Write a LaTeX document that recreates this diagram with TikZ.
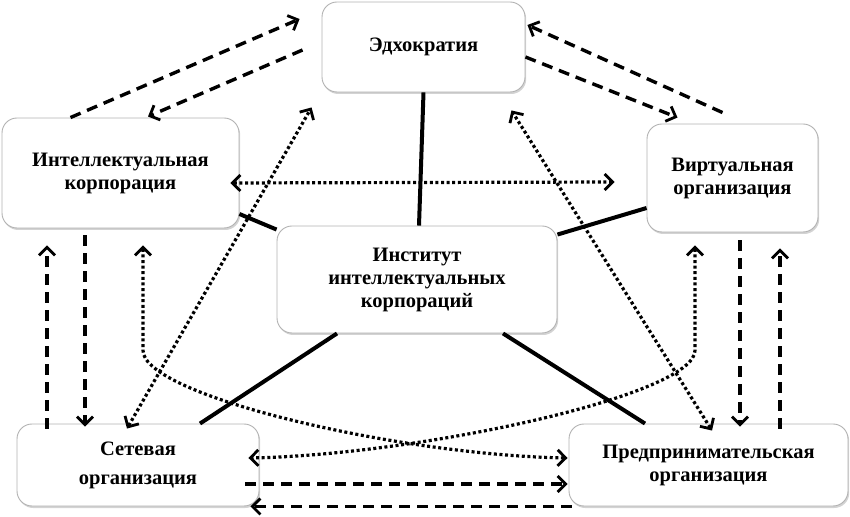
\documentclass[tikz,border=0pt]{standalone}
\usepackage{fontspec}
\setmainfont{Liberation Serif}
\usetikzlibrary{arrows.meta,shadows}
\begin{document}
\begin{tikzpicture}[x=1pt,y=1pt,
  box/.style={draw=gray!60, line width=0.9pt, rounded corners=15pt, fill=white,
    drop shadow={opacity=0.35, shadow xshift=1.2pt, shadow yshift=-2pt},
    align=center, font=\fontsize{20.5}{23}\selectfont\bfseries, inner sep=0pt},
  tie/.style={line width=4pt},
  flow/.style={line width=3.4pt, dash pattern=on 11pt off 7pt, -{Straight Barb[length=8pt,width=16pt,line width=2.8pt]}},
  link/.style={line width=3.2pt, dash pattern=on 3pt off 2.6pt, {Straight Barb[length=8pt,width=16pt,line width=2.8pt]}-{Straight Barb[length=8pt,width=16pt,line width=2.8pt]}}]
\useasboundingbox (0,0) rectangle (850,516);
\node[box, minimum width=203pt, minimum height=90pt] (edh) at (423.5,469) {Эдхократия};
\node[box, minimum width=237pt, minimum height=110pt] (ik) at (120.5,343) {Интеллектуальная\\корпорация};
\node[box, minimum width=171pt, minimum height=108pt] (vo) at (732.5,338) {Виртуальная\\организация};
\node[box, minimum width=280pt, minimum height=107pt] (inst) at (417,236.5) {Институт\\интеллектуальных\\корпораций};
\node[box, minimum width=242pt, minimum height=82pt, font=\fontsize{20.5}{29}\selectfont\bfseries] (so) at (138,51) {Сетевая\\организация};
\node[box, minimum width=279pt, minimum height=82pt] (po) at (708.5,51) {Предпринимательская\\организация};
\draw[tie] (edh.south) -- ([xshift=2pt]inst.north);
\draw[tie] ([yshift=-41pt]ik.east) -- ([yshift=-4pt]inst.north west);
\draw[tie] ([yshift=-30pt]vo.west) -- ([yshift=-9pt]inst.north east);
\draw[tie] ([xshift=-80pt]inst.south) -- ([xshift=62pt]so.north);
\draw[tie] ([xshift=86pt]inst.south) -- ([xshift=-63.5pt]po.north);
\draw[flow] ([xshift=-50pt]ik.north) -- ([xshift=-22pt,yshift=28pt]edh.west);
\draw[flow] ([xshift=-19pt,yshift=-3pt]edh.west) -- ([xshift=27.5pt,yshift=1pt]ik.north);
\draw[flow] ([yshift=-10pt]edh.east) -- ([xshift=-55pt,yshift=6pt]vo.north);
\draw[flow] ([xshift=-10pt,yshift=11pt]vo.north) -- ([xshift=2pt,yshift=22pt]edh.east);
\draw[flow] ([xshift=-91pt,yshift=-5pt]so.north) -- ([xshift=-73.5pt,yshift=-17pt]ik.south);
\draw[flow] ([xshift=-35.5pt,yshift=-7pt]ik.south) -- ([xshift=-53pt,yshift=-3pt]so.north);
\draw[flow] ([xshift=7.5pt,yshift=-8pt]vo.south) -- ([xshift=31.5pt,yshift=-3pt]po.north);
\draw[flow] ([xshift=71.5pt,yshift=-5pt]po.north) -- ([xshift=47.5pt,yshift=-16pt]vo.south);
\draw[flow] ([xshift=-14pt,yshift=-19pt]so.east) -- ([xshift=-1pt,yshift=-19pt]po.west);
\draw[flow] ([xshift=3pt]po.south west) -- ([xshift=-9pt]so.south east);
\draw[link] ([xshift=-9pt,yshift=-10pt]ik.east) -- ([xshift=-32pt,yshift=-4pt]vo.west);
\draw[link] ([xshift=-11pt,yshift=-5pt]so.north) -- ([xshift=-10pt,yshift=-15pt]edh.south west);
\draw[link] ([xshift=3.5pt,yshift=-7pt]po.north) -- ([xshift=-14pt,yshift=-18pt]edh.south east);
\draw[link] ([xshift=22.5pt,yshift=-17pt]ik.south) -- ++(0,-105) .. controls +(0,-45) and +(-170,3) .. ([xshift=-1pt,yshift=7pt]po.west);
\draw[link] ([xshift=-37.5pt,yshift=-13pt]vo.south) -- ++(0,-105) .. controls +(0,-45) and +(170,3) .. ([xshift=-11pt,yshift=7pt]so.east);
\end{tikzpicture}
\end{document}
